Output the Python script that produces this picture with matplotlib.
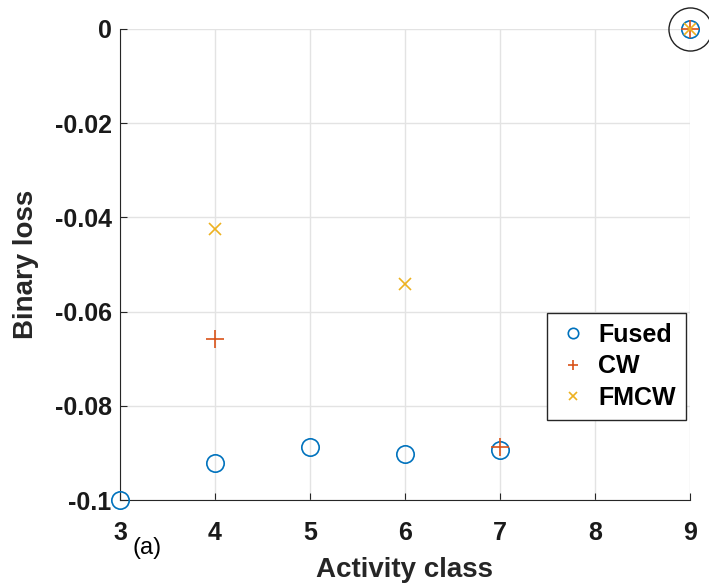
import matplotlib.pyplot as plt

plt.rcParams['font.family'] = ['Liberation Sans', 'DejaVu Sans']

# binary loss per activity class
fused_x = [3, 4, 5, 6, 7, 9]
fused_y = [-0.1, -0.0921, -0.0887, -0.0902, -0.0894, 0.0]
cw_x = [4, 7, 9]
cw_y = [-0.0658, -0.0888, 0.0]
fmcw_x = [4, 6, 9]
fmcw_y = [-0.0425, -0.0541, 0.0]

# point highlighted with a ring
ring_x = [9]
ring_y = [0.0]

xticks = [3, 4, 5, 6, 7, 8, 9]
yticks = [0, -0.02, -0.04, -0.06, -0.08, -0.1]
yticklabels = ['0', '-0.02', '-0.04', '-0.06', '-0.08', '-0.1']

fig = plt.figure(figsize=(7.09, 5.86), dpi=100)
ax = fig.add_axes([120 / 709, 86 / 586, 570 / 709, 471 / 586])

ax.plot(fused_x, fused_y, 'o', ms=12.5, mfc='none', mec='#0072BD', mew=1.2,
        label='Fused', clip_on=False, zorder=3)
ax.plot(cw_x, cw_y, '+', ms=13, color='#D95319', mew=1.2,
        label='CW', clip_on=False, zorder=3)
ax.plot(fmcw_x, fmcw_y, 'x', ms=9, color='#EDB120', mew=1.2,
        label='FMCW', clip_on=False, zorder=3)
ax.plot(ring_x, ring_y, 'o', ms=31, mfc='none', mec='#222222', mew=1.0,
        clip_on=False, zorder=4)

ax.set_xlim(3, 9)
ax.set_ylim(-0.1, 0)
ax.set_xticks(xticks)
ax.set_yticks(yticks)
ax.set_yticklabels(yticklabels)
ax.grid(True, color='#e3e3e3', lw=1)
ax.set_axisbelow(True)
for s in ['top', 'right']:
    ax.spines[s].set_visible(False)
for s in ['left', 'bottom']:
    ax.spines[s].set_color('#262626')
ax.tick_params(direction='in', length=5, labelsize=18, color='#262626')
ax.tick_params(axis='x', pad=15)
ax.tick_params(axis='y', pad=6)
for lab in ax.get_xticklabels() + ax.get_yticklabels():
    lab.set_fontweight('bold')
    lab.set_color('#1a1a1a')

ax.set_xlabel('Activity class', fontsize=20, fontweight='bold', labelpad=9,
              color='#262626')
ax.set_ylabel('Binary loss', fontsize=20, fontweight='bold', labelpad=11,
              color='#262626')
fig.text(147 / 709, 1 - 548 / 586, '(a)', fontsize=17, ha='center', va='center')

leg = ax.legend(loc='lower right', bbox_to_anchor=(0.993, 0.17),
                borderaxespad=0,
                prop={'weight': 'bold', 'size': 18}, frameon=True,
                fancybox=False, edgecolor='#262626', framealpha=1,
                handletextpad=0.35, borderpad=0.4, labelspacing=0.3,
                handlelength=1.3, markerscale=0.6)
leg.get_frame().set_linewidth(1.0)

fig.savefig('out.png', dpi=100)
